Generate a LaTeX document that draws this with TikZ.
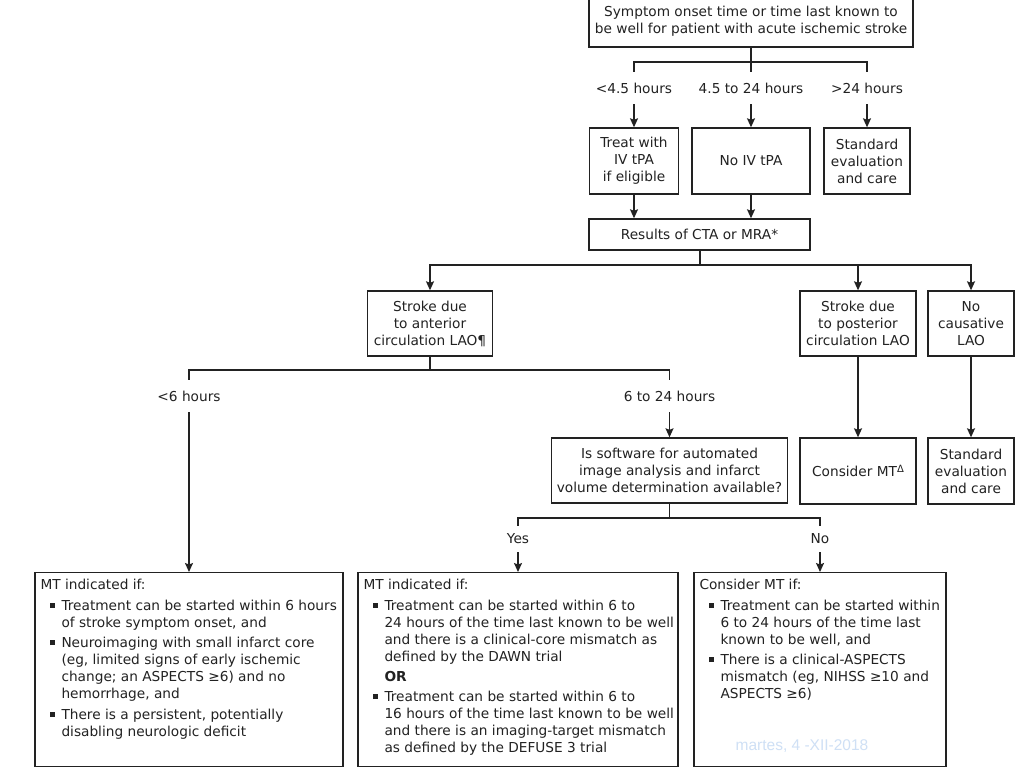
\documentclass[tikz,border=0pt]{standalone}
\usepackage{fontspec}
\setmainfont{DejaVu Sans}
\newfontfamily\wmfont{Liberation Sans}
\usetikzlibrary{arrows.meta}
\definecolor{ink}{HTML}{222222}
\definecolor{wm}{HTML}{CFE0F5}
\newcommand{\bul}{\par\vspace{3.5pt}\hangindent=21pt\hangafter=1\noindent\hspace*{9pt}\makebox[12pt][l]{\rule[2.4pt]{5pt}{5pt}}}
\newcommand{\orline}{\par\vspace{3pt}\noindent\hspace*{21pt}\textbf{OR}}
\begin{document}
\begin{tikzpicture}[x=1pt,y=-1pt,
  font=\fontsize{13.7}{17}\selectfont, text=ink,
  box/.style={draw=ink, line width=1.4pt, align=center, inner sep=0pt},
  lab/.style={inner sep=0pt, minimum height=32pt},
  lab2/.style={inner sep=0pt, minimum height=26pt},
  con/.style={draw=ink, line width=1.4pt},
  arr/.style={con, -{Stealth[length=9pt,width=8pt,inset=1.5pt]}},
  txt/.style={inner sep=0pt, anchor=north west}]
\useasboundingbox (0,0) rectangle (1024,768);
\fill[white] (0,0) rectangle (1024,768);

% top
\node[box, minimum width=324pt, minimum height=52pt] (top) at (751,21)
  {Symptom onset time or time last known to\\be well for patient with acute ischemic stroke};
\node[lab] (h1) at (634,88) {<4.5 hours};
\node[lab] (h2) at (751,88) {4.5 to 24 hours};
\node[lab] (h3) at (867,88) {>24 hours};
\coordinate (j1) at (751,62);
\draw[con] (top.south) -- (j1);
\draw[con] (h1.north) |- (j1) -| (h3.north);
\draw[con] (j1) -- (h2.north);

\node[box, minimum width=89pt, minimum height=66pt] (treat) at (634,161) {Treat with\\IV tPA\\if eligible};
\node[box, minimum width=118pt, minimum height=66pt] (noiv) at (751,161) {No IV tPA};
\node[box, minimum width=86pt, minimum height=66pt] (std1) at (867,161) {Standard\\evaluation\\and care};
\draw[arr] (h1.south) -- (treat.north);
\draw[arr] (h2.south) -- (noiv.north);
\draw[arr] (h3.south) -- (std1.north);

\node[box, minimum width=221pt, minimum height=31pt] (cta) at (699.5,234.5) {Results of CTA or MRA*};
\draw[arr] (treat.south) -- (treat.south |- cta.north);
\draw[arr] (noiv.south) -- (noiv.south |- cta.north);

\node[box, minimum width=125pt, minimum height=65pt] (ant) at (430,323.5) {Stroke due\\to anterior\\circulation LAO¶};
\node[box, minimum width=116pt, minimum height=65pt] (post) at (858,323.5) {Stroke due\\to posterior\\circulation LAO};
\node[box, minimum width=86pt, minimum height=65pt] (nocaus) at (971,323.5) {No\\causative\\LAO};
\coordinate (j2) at (700,265);
\draw[con] (cta.south -| j2) -- (j2);
\draw[arr] (j2) -| (ant.north);
\draw[arr] (j2) -| (post.north);
\draw[arr] (j2) -| (nocaus.north);

\node[lab] (l6) at (189,396) {<6 hours};
\node[lab] (l624) at (669.5,396) {6 to 24 hours};
\coordinate (j3) at (430,370);
\draw[con] (ant.south) -- (j3);
\draw[con] (l6.north) |- (j3) -| (l624.north);

\node[box, minimum width=236pt, minimum height=65pt] (soft) at (669.5,470.5)
  {Is software for automated\\image analysis and infarct\\volume determination available?};
\node[box, minimum width=116pt, minimum height=66pt] (cmt) at (858,471)
  {Consider MT\raisebox{4.5pt}{\fontsize{10}{10}\selectfont Δ}};
\node[box, minimum width=86pt, minimum height=66pt] (std2) at (971,471) {Standard\\evaluation\\and care};
\draw[arr] (l624.south) -- (soft.north);
\draw[arr] (post.south) -- (cmt.north);
\draw[arr] (nocaus.south) -- (std2.north);

\node[lab2] (yes) at (518,539) {Yes};
\node[lab2] (no) at (820,539) {No};
\coordinate (j4) at (669.5,518);
\draw[con] (soft.south) -- (j4);
\draw[con] (yes.north) |- (j4) -| (no.north);

% bottom boxes
\node[box, minimum width=308pt, minimum height=194pt, anchor=north] (b1) at (189,572) {};
\node[box, minimum width=320pt, minimum height=194pt, anchor=north] (b2) at (518,572) {};
\node[box, minimum width=252pt, minimum height=194pt, anchor=north] (b3) at (820,572) {};
\draw[arr] (l6.south) -- (b1.north);
\draw[arr] (yes.south) -- (b2.north);
\draw[arr] (no.south) -- (b3.north);

\node[txt] (t1) at ([shift={(6,7)}]b1.north west) {\parbox[t]{400pt}{\noindent MT indicated if:%
\bul Treatment can be started within 6 hours\\of stroke symptom onset, and%
\bul Neuroimaging with small infarct core\\(eg, limited signs of early ischemic\\change; an ASPECTS ≥6) and no\\hemorrhage, and%
\bul There is a persistent, potentially\\disabling neurologic deficit}};

\node[txt] (t2) at ([shift={(6,7)}]b2.north west) {\parbox[t]{400pt}{\noindent MT indicated if:%
\bul Treatment can be started within 6 to\\24 hours of the time last known to be well\\and there is a clinical-core mismatch as\\defined by the DAWN trial%
\orline%
\bul Treatment can be started within 6 to\\16 hours of the time last known to be well\\and there is an imaging-target mismatch\\as defined by the DEFUSE 3 trial}};

\node[txt] (t3) at ([shift={(6,7)}]b3.north west) {\parbox[t]{400pt}{\noindent Consider MT if:%
\bul Treatment can be started within\\6 to 24 hours of the time last\\known to be well, and%
\bul There is a clinical-ASPECTS\\mismatch (eg, NIHSS ≥10 and\\ASPECTS ≥6)}};

\node[text=wm, inner sep=0pt, font=\wmfont\fontsize{15.5}{17}\selectfont] (wmk) at (802,746) {martes, 4 -XII-2018};
\end{tikzpicture}
\end{document}
